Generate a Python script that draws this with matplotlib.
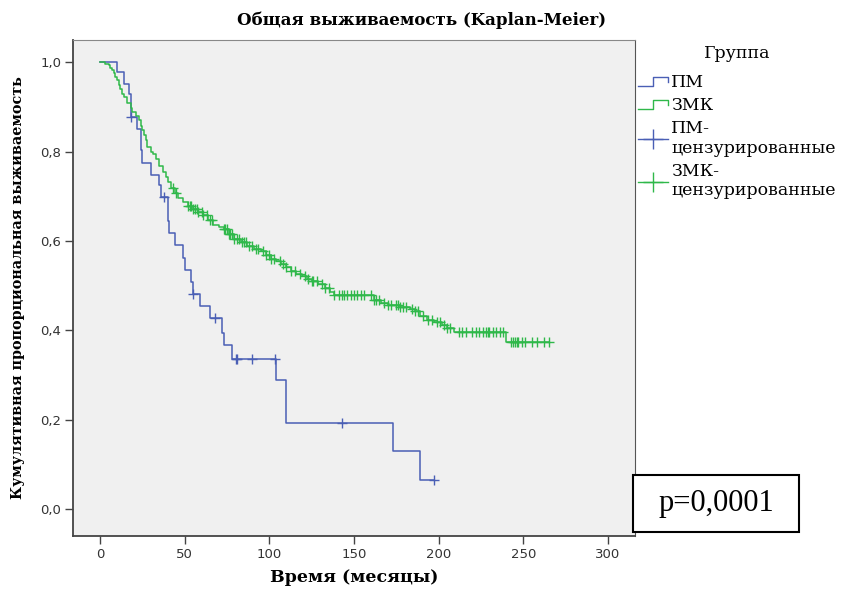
import numpy as np
import matplotlib
matplotlib.use('Agg')
import matplotlib.pyplot as plt
from matplotlib.lines import Line2D
from matplotlib.legend_handler import HandlerBase
from matplotlib.patches import Rectangle

# ПМ: время (мес.) и выживаемость после каждого шага
pm_time = [0, 10, 14, 17, 18, 22, 24, 25, 30, 35, 36, 40, 41, 44, 49, 50, 54, 55,
           59, 65, 72, 73, 78, 104, 110, 173, 189, 197]
pm_surv = [1.0, 0.978, 0.952, 0.930, 0.878, 0.851, 0.803, 0.775, 0.749, 0.725,
           0.699, 0.645, 0.618, 0.591, 0.563, 0.536, 0.508, 0.482, 0.454, 0.428,
           0.395, 0.367, 0.337, 0.289, 0.194, 0.130, 0.065, 0.065]
pm_cens = [18.5, 37.5, 55, 68, 80, 81, 90, 103.5, 143, 197]

# ЗМК
zmk_time = [0, 3, 5, 6, 7, 8, 9, 10, 11, 12, 13, 14, 16, 18, 19, 21, 23, 24, 25,
            26, 27, 28, 30, 31, 33, 35, 37, 39, 40, 42, 44, 46, 49, 52, 55, 58,
            61, 64, 67, 70, 73, 76, 79, 83, 87, 91, 95, 98, 101, 104, 107, 110,
            113, 116, 119, 122, 125, 129, 133, 136, 138, 162, 166, 170, 177, 183,
            186, 189, 193, 197, 202, 205, 209, 240, 265]
zmk_surv = [1.0, 0.997, 0.993, 0.988, 0.983, 0.976, 0.968, 0.960, 0.950, 0.940,
            0.930, 0.922, 0.910, 0.898, 0.889, 0.880, 0.870, 0.858, 0.848, 0.837,
            0.826, 0.810, 0.800, 0.795, 0.783, 0.768, 0.755, 0.743, 0.733, 0.718,
            0.708, 0.697, 0.688, 0.679, 0.672, 0.664, 0.658, 0.648, 0.637, 0.632,
            0.627, 0.615, 0.605, 0.598, 0.590, 0.583, 0.577, 0.568, 0.560, 0.555,
            0.549, 0.541, 0.534, 0.527, 0.521, 0.516, 0.510, 0.503, 0.495, 0.487,
            0.479, 0.469, 0.462, 0.456, 0.452, 0.447, 0.443, 0.433, 0.424, 0.418,
            0.412, 0.405, 0.396, 0.375, 0.375]
zmk_cens = [43, 45, 52, 53, 54, 55, 56, 57, 58, 60, 61, 63, 65, 66, 73, 74, 75,
            76, 77, 78, 79, 81, 82, 84, 85, 86, 88, 90, 92, 93, 96, 98, 100, 101,
            103, 106, 108, 110, 113, 115, 118, 121, 123, 125, 126, 128, 131, 133,
            135, 138, 141, 143, 144, 146, 148, 150, 152, 154, 156, 160, 162, 163,
            165, 168, 170, 172, 175, 176, 177, 179, 181, 184, 186, 188, 191, 194,
            196, 199, 201, 203, 205, 207, 212, 214, 216, 220, 222, 224, 226, 228,
            229, 230, 232, 234, 236, 238, 243, 244, 245, 246, 247, 249, 251, 255,
            258, 262, 265]

blue = '#4a5fb5'
green = '#2fb84a'
serif = ['DejaVu Serif']
sans = ['DejaVu Sans']


def surv_at(times, surv, t):
    idx = np.searchsorted(times, t, side='right') - 1
    return np.asarray(surv)[idx]


class StepHandler(HandlerBase):
    # значок легенды в виде ступеньки
    def create_artists(self, legend, orig_handle, xdescent, ydescent,
                       width, height, fontsize, trans):
        xs = np.array([0, 0.5, 0.5, 1.0, 1.0]) * width - xdescent
        ys = np.array([0.1, 0.1, 0.85, 0.85, 0.4]) * height - ydescent
        ln = Line2D(xs, ys, color=orig_handle.get_color(), lw=1.0, transform=trans)
        return [ln]


fig = plt.figure(figsize=(8.43, 5.89), dpi=100)
ax = fig.add_axes([73/843, 1-536/589, (635-73)/843, (536-40)/589])
ax.set_facecolor('#f0f0f0')

ax.step(pm_time, pm_surv, where='post', color=blue, lw=1.1)
ax.step(zmk_time, zmk_surv, where='post', color=green, lw=1.1)
ax.plot(pm_cens, surv_at(pm_time, pm_surv, pm_cens), ls='none', marker='+',
        color=blue, ms=7, mew=1.0)
ax.plot(zmk_cens, surv_at(zmk_time, zmk_surv, zmk_cens), ls='none', marker='+',
        color=green, ms=7, mew=1.0)

ax.set_xlim(-16, 316)
ax.set_ylim(-0.06, 1.05)
ax.set_xticks([0, 50, 100, 150, 200, 250, 300])
ax.set_yticks([0, 0.2, 0.4, 0.6, 0.8, 1.0])
ax.set_yticklabels(['0,0', '0,2', '0,4', '0,6', '0,8', '1,0'])
ax.tick_params(length=6, width=1, color='#444', labelcolor='#333',
               labelsize=9.5, pad=2.5)
for lab in ax.get_xticklabels() + ax.get_yticklabels():
    lab.set_family(sans)
for s in ['left', 'bottom']:
    ax.spines[s].set_color('#444')
    ax.spines[s].set_linewidth(1.3)
ax.spines['top'].set_color('#888')
ax.spines['right'].set_color('#555')

fig.text(0.5, 1-20/589, 'Общая выживаемость (Kaplan-Meier)', family=serif,
         fontweight='bold', fontsize=12, ha='center', va='center')
ax.set_xlabel('Время (месяцы)', family=serif, fontweight='bold', fontsize=12.5)
ax.xaxis.set_label_coords(0.5, -(578-536)/496, transform=ax.transAxes)
ax.xaxis.label.set_va('center')
ax.set_ylabel('Кумулятивная пропорциональная выживаемость', family=serif,
              fontweight='bold', fontsize=10.4)
ax.yaxis.set_label_coords(-(73-18)/562, 0.5, transform=ax.transAxes)
ax.yaxis.label.set_va('center')

# легенда
fig.text(737/843, 1-53/589, 'Группа', family=serif, fontsize=12.5,
         ha='center', va='center')
handles = [Line2D([], [], color=blue), Line2D([], [], color=green),
           Line2D([], [], color=blue, marker='+', ms=15, mew=1.0, lw=1.0),
           Line2D([], [], color=green, marker='+', ms=15, mew=1.0, lw=1.0)]
labels = ['ПМ', 'ЗМК', 'ПМ-\nцензурированные', 'ЗМК-\nцензурированные']
leg = fig.legend(handles, labels, loc='upper left',
                 bbox_to_anchor=(638/843, 1-74/589), frameon=False,
                 prop={'family': serif, 'size': 12.5},
                 handlelength=1.75, handletextpad=0.15, labelspacing=0.35,
                 borderaxespad=0, borderpad=0, numpoints=1,
                 handler_map={handles[0]: StepHandler(), handles[1]: StepHandler()})

fig.patches.append(Rectangle((633/843, 1-532/589), 166/843, 57/589,
                             transform=fig.transFigure, facecolor='white',
                             edgecolor='black', lw=1.5, zorder=5))
fig.text(716/843, 1-504/589, 'p=0,0001', family=['Liberation Serif'], fontsize=22,
         ha='center', va='center', zorder=6)

fig.savefig('out.png', dpi=100)
